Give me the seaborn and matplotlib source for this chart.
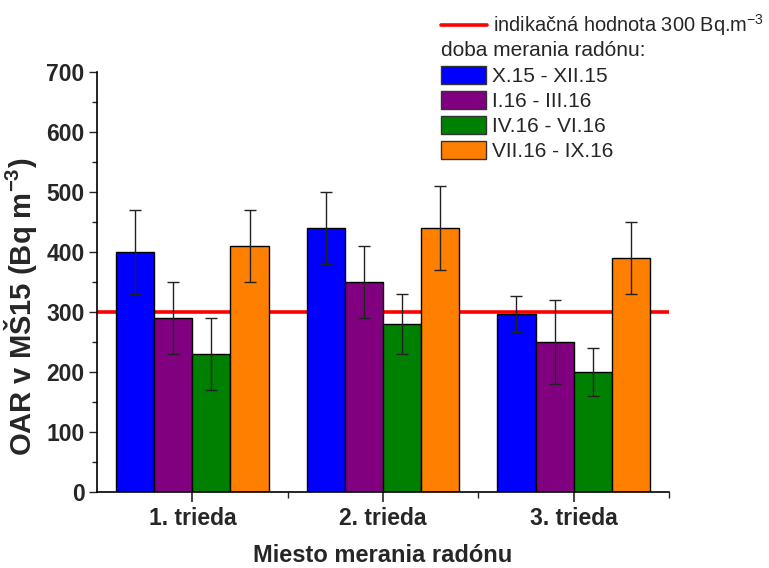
import numpy as np
import pandas as pd
import matplotlib
matplotlib.use("Agg")
import matplotlib.pyplot as plt
import seaborn as sns
from matplotlib.lines import Line2D
from matplotlib.patches import Patch
from matplotlib.ticker import MultipleLocator, FixedLocator

# Data
classes = ["1. trieda", "2. trieda", "3. trieda"]
periods = ["X.15 - XII.15", "I.16 - III.16", "IV.16 - VI.16", "VII.16 - IX.16"]
colors = ["#0000FF", "#800080", "#008000", "#FF8000"]
oar_x15 = [400, 440, 297]
oar_i16 = [290, 350, 250]
oar_iv16 = [230, 280, 200]
oar_vii16 = [410, 440, 390]
err_x15 = [70, 60, 30]
err_i16 = [60, 60, 70]
err_iv16 = [60, 50, 40]
err_vii16 = [60, 70, 60]
limit_value = 300

values = [oar_x15, oar_i16, oar_iv16, oar_vii16]
errors = [err_x15, err_i16, err_iv16, err_vii16]

df = pd.DataFrame({
    "trieda": [c for _ in periods for c in classes],
    "obdobie": [p for p in periods for _ in classes],
    "oar": [v for vals in values for v in vals],
})

sns.set_style("ticks")
plt.rcParams["font.family"] = ["Liberation Sans", "DejaVu Sans"]
plt.rcParams["mathtext.fontset"] = "custom"
plt.rcParams["mathtext.rm"] = "Liberation Sans"
plt.rcParams["mathtext.bf"] = "Liberation Sans:bold"

fig = plt.figure(figsize=(7.69, 5.68), dpi=100)
ax = fig.add_axes([97 / 769, 1 - 492 / 568, (669 - 97) / 769, (492 - 72) / 568])

ax.axhline(limit_value, color="#FF0000", lw=2.6, zorder=1)

sns.barplot(data=df, x="trieda", y="oar", hue="obdobie", order=classes,
            hue_order=periods, palette=colors, errorbar=None, width=0.8,
            edgecolor="black", linewidth=1.0, saturation=1, ax=ax, zorder=2,
            legend=False)

for cont, errs in zip(ax.containers, errors):
    xs = [b.get_x() + b.get_width() / 2 for b in cont]
    hs = [b.get_height() for b in cont]
    ax.errorbar(xs, hs, yerr=errs, fmt="none", ecolor="#222222",
                elinewidth=1.0, capsize=4, capthick=1.0, zorder=3)

ax.set_xlim(-0.5, 2.5)
ax.set_ylim(0, 700)
ax.yaxis.set_major_locator(MultipleLocator(100))
ax.yaxis.set_minor_locator(MultipleLocator(50))
ax.xaxis.set_minor_locator(FixedLocator([0.5, 1.5, 2.5]))
ax.tick_params(axis="y", which="major", length=6, width=1, direction="out",
               labelsize=16.5, pad=3)
ax.tick_params(axis="y", which="minor", length=3.5, width=1, direction="out")
ax.tick_params(axis="x", which="major", length=7, width=1.2, direction="out",
               labelsize=16.5, pad=4)
ax.tick_params(axis="x", which="minor", length=4, width=1, direction="out")
for lab in ax.get_xticklabels() + ax.get_yticklabels():
    lab.set_fontweight("bold")

sns.despine(ax=ax)
for s in ["left", "bottom"]:
    ax.spines[s].set_linewidth(1.2)
    ax.spines[s].set_color("black")

ax.set_ylabel("OAR v MŠ15 (Bq m$^{\\mathbf{-3}}$)", fontsize=21,
              fontweight="bold")
ax.yaxis.set_label_coords(-0.102, 0.44)
ax.set_xlabel("Miesto merania radónu", fontsize=17, fontweight="bold",
              labelpad=10)

# Legend: limit line, then measurement periods
leg1 = fig.legend(handles=[Line2D([0], [0], color="#FF0000", lw=2.6)],
                  labels=["indikačná hodnota 300 Bq.m$^{\\mathregular{-3}}$"],
                  loc="upper left", bbox_to_anchor=(441 / 769, 1 - 12 / 568),
                  frameon=False, fontsize=14.4, handlelength=2.3,
                  handletextpad=0.3, borderpad=0, borderaxespad=0)
patches = [Patch(facecolor=c, edgecolor="#333333", lw=1) for c in colors]
leg2 = fig.legend(handles=patches, labels=periods, title="doba merania radónu:",
                  title_fontsize=15, alignment="left",
                  loc="upper left", bbox_to_anchor=(441 / 769, 1 - 41 / 568),
                  frameon=False, fontsize=15, handlelength=2.15,
                  handleheight=1.0, handletextpad=0.3, labelspacing=0.22,
                  borderpad=0, borderaxespad=0)
leg2._legend_box.sep = 4

fig.savefig("out.png", dpi=100)
